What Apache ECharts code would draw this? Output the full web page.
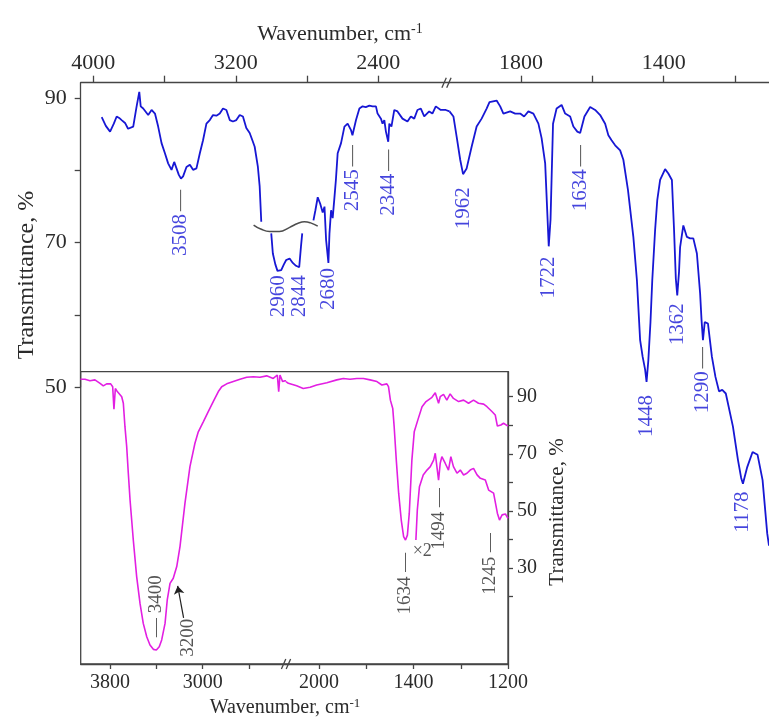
<!DOCTYPE html>
<html>
<head>
<meta charset="utf-8">
<script src="https://cdn.jsdelivr.net/npm/echarts@6/dist/echarts.min.js"></script>
<style>
  html, body { margin: 0; padding: 0; background: #fff; }
  #chart { width: 769px; height: 720px; }
</style>
</head>
<body>
<div id="chart"></div>
<script>
// ---------------------------------------------------------------
// Spectra: [wavenumber (cm-1), transmittance (%)]
// ---------------------------------------------------------------

// Blue spectrum, 4000-2000 cm-1 part, first piece (before the y-break)
const blueHighA = [
  [3953, 87.4], [3930, 86.2], [3906, 85.4], [3885, 86.5], [3869, 87.5], [3855, 87.3],
  [3841, 87.0], [3822, 86.6], [3805, 85.8], [3794, 85.6], [3776, 86.1], [3757, 88.9],
  [3742, 90.9], [3734, 88.9], [3720, 88.6], [3710, 88.4], [3692, 87.7], [3673, 88.4],
  [3654, 87.9], [3636, 86.1], [3617, 83.8], [3598, 82.4], [3580, 81.0], [3561, 80.1],
  [3546, 81.2], [3533, 80.3], [3520, 79.4], [3508, 78.9], [3496, 79.2], [3477, 80.5],
  [3458, 80.8], [3440, 80.1], [3421, 80.3], [3402, 82.4], [3384, 84.2], [3365, 86.5],
  [3346, 87.0], [3328, 87.7], [3309, 87.6], [3290, 87.9], [3272, 88.6], [3253, 88.4],
  [3234, 87.0], [3216, 86.8], [3197, 87.0], [3178, 87.7], [3160, 87.5], [3141, 85.9],
  [3122, 85.2], [3107, 84.2], [3094, 83.3], [3076, 80.5], [3066, 77.8], [3057, 72.9]
];
// Blue spectrum, C-H stretching band below the y-break
const blueHighB = [
  [3001, 71.3], [2992, 68.5], [2978, 67.0], [2966, 66.1], [2960, 65.9], [2945, 66.2],
  [2930, 67.0], [2917, 67.6], [2898, 67.8], [2880, 67.2], [2862, 66.8], [2844, 66.6],
  [2834, 69.5], [2827, 71.3]
];
// Blue spectrum, after the y-break down to 2000 cm-1
const blueHighC = [
  [2764, 73.1], [2753, 74.5], [2740, 76.3], [2726, 75.4], [2712, 74.2], [2702, 75.0],
  [2693, 70.4], [2680, 67.2], [2674, 71.3], [2665, 74.5], [2656, 73.4], [2647, 76.0],
  [2638, 78.7], [2628, 82.4], [2609, 83.8], [2590, 86.1], [2572, 86.5], [2553, 85.6],
  [2545, 84.9], [2525, 87.0], [2506, 88.6], [2488, 88.9], [2470, 88.8], [2450, 89.0],
  [2432, 88.9], [2413, 88.9], [2404, 87.9], [2385, 87.2], [2376, 86.5], [2366, 87.0],
  [2357, 85.4], [2344, 84.0], [2338, 86.5], [2326, 86.1], [2310, 88.4], [2292, 88.2],
  [2264, 87.2], [2236, 86.8], [2217, 87.5], [2198, 87.2], [2180, 88.4], [2161, 88.6],
  [2142, 87.5], [2114, 88.2], [2096, 87.9], [2077, 88.9], [2049, 88.4], [2021, 88.4],
  [2000, 88.2]
];
// Blue spectrum, 2000-1105 cm-1 part
const blueLow = [
  [2000, 88.2], [1998, 88.0], [1989, 87.5], [1980, 84.7], [1970, 81.5], [1962, 79.5],
  [1952, 80.3], [1938, 83.3], [1924, 86.1], [1910, 87.2], [1896, 88.6], [1888, 89.5],
  [1868, 89.7], [1858, 88.9], [1849, 87.9], [1830, 88.2], [1816, 87.9], [1802, 87.9],
  [1791, 87.5], [1779, 88.2], [1765, 87.9], [1751, 86.5], [1742, 84.5], [1732, 81.0],
  [1726, 74.1], [1722, 69.5], [1717, 73.2], [1710, 86.5], [1700, 88.6], [1686, 89.1],
  [1676, 87.9], [1662, 87.5], [1653, 86.1], [1642, 85.4], [1634, 85.2], [1622, 87.5],
  [1606, 88.8], [1592, 88.4], [1578, 87.7], [1564, 86.5], [1555, 84.9], [1546, 84.2],
  [1536, 83.5], [1522, 82.8], [1513, 81.5], [1500, 77.3], [1485, 70.8], [1475, 64.8],
  [1466, 56.5], [1459, 54.2], [1452, 52.4], [1448, 50.7], [1443, 53.7], [1437, 59.0],
  [1432, 64.8], [1424, 71.8], [1418, 75.9], [1410, 78.7], [1396, 80.2], [1387, 79.6],
  [1377, 78.7], [1371, 71.8], [1366, 65.0], [1362, 62.7], [1357, 66.0], [1354, 69.4],
  [1345, 72.4], [1335, 70.8], [1326, 70.6], [1317, 70.6], [1307, 68.5], [1298, 63.0],
  [1294, 59.3], [1290, 56.5], [1285, 59.0], [1276, 58.8], [1265, 54.2], [1255, 51.4],
  [1245, 49.4], [1236, 49.6], [1226, 49.1], [1206, 44.5], [1192, 39.9], [1183, 37.4],
  [1178, 36.6], [1166, 38.9], [1151, 41.0], [1137, 40.6], [1123, 37.1], [1110, 29.7],
  [1105, 28.0]
];
// Wavy symbol marking the broken transmittance scale
const breakWave = [
  [3100, 72.45], [3060, 71.9], [3010, 71.55], [2955, 71.55], [2900, 72.1],
  [2850, 72.7], [2815, 72.9], [2780, 72.75], [2740, 72.3]
];

// Inset (magenta) spectrum, 4055-2281 cm-1 part
const insetHigh = [
  [4055, 96.1], [4016, 96.1], [3973, 95.6], [3930, 95.9], [3886, 94.7], [3858, 93.8],
  [3829, 94.5], [3794, 94.5], [3777, 93.5], [3766, 85.6], [3754, 92.9], [3737, 91.8],
  [3720, 92.1], [3699, 90.0], [3685, 87.7], [3671, 79.5], [3656, 72.5], [3642, 63.2],
  [3627, 53.8], [3599, 39.8], [3570, 27.0], [3541, 17.6], [3513, 10.6], [3483, 5.9],
  [3455, 3.0], [3426, 1.5], [3400, 1.3], [3375, 2.4], [3354, 4.8], [3325, 10.6],
  [3306, 18.8], [3282, 24.6], [3254, 26.4], [3224, 30.5], [3196, 37.5], [3153, 52.7],
  [3110, 65.5], [3067, 73.7], [3038, 77.7], [2995, 81.2], [2952, 84.8], [2909, 88.3],
  [2865, 91.8], [2836, 93.5], [2793, 94.5], [2736, 95.3], [2678, 96.1], [2620, 96.8],
  [2563, 97.0], [2506, 96.8], [2448, 97.3], [2391, 96.4], [2356, 97.6], [2344, 91.8],
  [2333, 97.6], [2310, 95.3], [2290, 95.6], [2281, 95.5]
];
// Inset spectrum, 2140-1200 cm-1 part
const insetLow = [
  [2140, 95.3], [2130, 94.7], [2095, 93.8], [2067, 92.9], [2038, 93.3], [2010, 94.1],
  [1967, 94.9], [1925, 95.9], [1897, 96.4], [1869, 96.1], [1840, 96.4], [1812, 96.4],
  [1784, 95.9], [1755, 95.3], [1734, 94.1], [1713, 94.5], [1706, 93.5], [1698, 88.8],
  [1688, 85.9], [1682, 79.5], [1673, 67.8], [1663, 56.2], [1652, 46.8], [1642, 41.0],
  [1634, 39.8], [1626, 41.5], [1618, 49.2], [1607, 67.8], [1597, 77.7], [1582, 81.8],
  [1564, 86.5], [1547, 88.3], [1522, 89.8], [1508, 91.4], [1494, 87.7], [1487, 90.0],
  [1473, 90.8], [1459, 88.8], [1445, 91.0], [1431, 89.4], [1409, 88.3], [1388, 88.8],
  [1367, 87.7], [1346, 88.8], [1325, 87.7], [1303, 87.4], [1289, 86.5], [1268, 84.8],
  [1254, 83.6], [1245, 79.7], [1230, 80.1], [1219, 80.7], [1200, 79.7]
];
// Same region recorded with twofold scale expansion
const insetLowX2 = [
  [1590, 39.8], [1584, 50.3], [1575, 58.5], [1559, 62.6], [1543, 64.3], [1529, 65.5],
  [1515, 67.8], [1508, 70.2], [1494, 60.8], [1487, 66.7], [1480, 69.0], [1466, 66.7],
  [1452, 64.3], [1442, 69.0], [1431, 65.5], [1416, 63.2], [1402, 64.3], [1388, 62.6],
  [1374, 63.2], [1360, 64.3], [1346, 64.9], [1331, 62.6], [1317, 61.4], [1296, 60.8],
  [1282, 57.3], [1261, 56.2], [1245, 49.2], [1236, 46.8], [1225, 48.6], [1211, 48.9],
  [1200, 47.4]
];

// Band assignments on the blue spectrum and where each caption starts (% level)
const bluePeaks       = [3508, 2960, 2844, 2680, 2545, 2344, 1962, 1722, 1634, 1448, 1362, 1290, 1178];
const bluePeakLabelAt = [77.3, 65.5, 65.5, 66.5, 83.5, 82.9, 77.7, 68.1, 83.5, 48.9, 61.6, 55.5, 35.5];
const bluePeakDash    = [true, false, false, false, true, true, false, false, true, false, false, true, false];

// Band captions in the inset
const insetPeaks = [
  { text: '3400', wn: 3400, at: 5.8,  dashFirst: true },
  { text: '3200', wn: 3127, at: -1.1 },
  { text: '1634', wn: 1634, at: 35.3, dashLast: true },
  { text: '1494', wn: 1494, at: 58.0, dashLast: true },
  { text: '1245', wn: 1276, at: 42.3, dashLast: true }
];
const insetArrow = [[3165, 12.5], [3216, 23.7]];
const scaleNote = { text: '\u00d72', wn: 1563, at: 36.0 };

// Axis ticks and tick captions
const topTicksHigh    = [4000, 3600, 3200, 2800, 2400];
const topLabelsHigh   = [4000, 3200, 2400];
const topTicksLow     = [1800, 1600, 1400, 1200];
const topLabelsLow    = [1800, 1400];
const mainYTicks      = [50, 60, 70, 80, 90];
const mainYLabels     = [50, 70, 90];
const insetTicksHigh  = [3800, 3400, 3000, 2600];
const insetLabelsHigh = [3800, 3000];
const insetTicksLow   = [2000, 1800, 1600, 1400, 1200];
const insetLabelsLow  = [2000, 1600, 1200];
const insetLowTickText = { 2000: '2000', 1600: '1400', 1200: '1200' };
const insetYTicks     = [20, 30, 40, 50, 60, 70, 80, 90];
const insetYLabels    = [30, 50, 70, 90];

// ---------------------------------------------------------------
const BLUE = '#1717d4';
const MAGENTA = '#e21fe2';
const INK = '#2b2b2b';
const AXIS = '#454545';
const FONT = '"Liberation Serif", "Times New Roman", serif';

const MAIN_Y = { min: 50, max: 92.18 };
const INSET_Y = { min: -3.63, max: 98.76 };

const chart = echarts.init(document.getElementById('chart'), null, { renderer: 'canvas' });

function axisTick(values, len) {
  return { show: true, inside: false, length: len, customValues: values,
           lineStyle: { color: AXIS, width: 1.3 } };
}
function axisLabel(values, size, margin, formatter) {
  return { show: true, customValues: values, color: INK, fontFamily: FONT,
           fontSize: size, margin: margin, formatter: formatter || (v => String(v)) };
}
const axisLine = { show: true, onZero: false, lineStyle: { color: AXIS, width: 1.3 } };
const hiddenY = (grid, r) => ({ type: 'value', gridIndex: grid, show: false, min: r.min, max: r.max });

const peakLabelRich = {
  b: { color: BLUE, fontFamily: FONT, fontSize: 21 },
  d: { color: '#333', fontFamily: FONT, fontSize: 21 },
  k: { color: INK, fontFamily: FONT, fontSize: 19 }
};

function blueLabelSeries(xi, pick) {
  const data = bluePeaks
    .map((wn, i) => ({ value: [wn, bluePeakLabelAt[i]], name: String(wn), dashed: bluePeakDash[i] }))
    .filter(d => pick(d.value[0]));
  return {
    type: 'scatter', xAxisIndex: xi, yAxisIndex: xi, clip: false, silent: true,
    symbolSize: 1, itemStyle: { color: 'rgba(0,0,0,0)' },
    data,
    label: {
      show: true, position: 'inside', rotate: 90, align: 'right', verticalAlign: 'middle',
      formatter: p => p.data.dashed ? '{b|' + p.name + '} {d|\u2014}' : '{b|' + p.name + '}',
      rich: peakLabelRich
    }
  };
}

function insetLabelSeries(xi, pick) {
  const items = insetPeaks.filter(p => pick(p.wn));
  return {
    type: 'scatter', xAxisIndex: xi, yAxisIndex: xi, clip: false, silent: true,
    symbolSize: 1, itemStyle: { color: 'rgba(0,0,0,0)' },
    data: items.map(p => ({
      value: [p.wn, p.at], name: p.text,
      label: { align: p.dashLast ? 'right' : 'left' },
      kind: p.dashFirst ? 'first' : (p.dashLast ? 'last' : 'plain')
    })),
    label: {
      show: true, position: 'inside', rotate: 90, verticalAlign: 'middle',
      formatter: p => p.data.kind === 'first' ? '{k|\u2014 ' + p.name + '}'
                    : p.data.kind === 'last' ? '{k|' + p.name + ' \u2014}'
                    : '{k|' + p.name + '}',
      rich: peakLabelRich
    }
  };
}

const option = {
  animation: false,
  backgroundColor: '#fff',
  textStyle: { fontFamily: FONT },
  grid: [
    { left: 80.7, top: 82.7, width: 368.8, height: 304.3, outerBoundsMode: 'none' },
    { left: 449.5, top: 82.7, width: 319.5, height: 304.3, outerBoundsMode: 'none' },
    { left: 80.7, top: 371.7, width: 205.3, height: 292.3, outerBoundsMode: 'none' },
    { left: 286, top: 371.7, width: 222, height: 292.3, outerBoundsMode: 'none' },
    { left: 80.7, top: 371.7, width: 427.3, height: 292.3, outerBoundsMode: 'none',
      show: true, borderColor: AXIS, borderWidth: 1.3, backgroundColor: 'rgba(0,0,0,0)' }
  ],
  xAxis: [
    { type: 'value', gridIndex: 0, position: 'top', inverse: true, min: 2000, max: 4071,
      axisLine, axisTick: axisTick(topTicksHigh, 7), axisLabel: axisLabel(topLabelsHigh, 22, 8),
      splitLine: { show: false } },
    { type: 'value', gridIndex: 1, position: 'top', inverse: true, min: 1105, max: 2000,
      axisLine, axisTick: axisTick(topTicksLow, 7), axisLabel: axisLabel(topLabelsLow, 22, 8),
      splitLine: { show: false } },
    { type: 'value', gridIndex: 2, position: 'bottom', inverse: true, min: 2281, max: 4053,
      axisLine, axisTick: axisTick(insetTicksHigh, 5), axisLabel: axisLabel(insetLabelsHigh, 20, 9),
      splitLine: { show: false } },
    { type: 'value', gridIndex: 3, position: 'bottom', inverse: true, min: 1200, max: 2140,
      axisLine, axisTick: axisTick(insetTicksLow, 5),
      axisLabel: axisLabel(insetLabelsLow, 20, 9, v => insetLowTickText[v]),
      splitLine: { show: false } },
    { type: 'value', gridIndex: 4, show: false, min: 0, max: 1 }
  ],
  yAxis: [
    { type: 'value', gridIndex: 0, position: 'left', min: MAIN_Y.min, max: MAIN_Y.max,
      axisLine, axisTick: axisTick(mainYTicks, 6), axisLabel: axisLabel(mainYLabels, 22, 14),
      splitLine: { show: false } },
    hiddenY(1, MAIN_Y),
    hiddenY(2, INSET_Y),
    { type: 'value', gridIndex: 3, position: 'right', min: INSET_Y.min, max: INSET_Y.max,
      axisLine, axisTick: axisTick(insetYTicks, 5), axisLabel: axisLabel(insetYLabels, 20, 9),
      splitLine: { show: false } },
    { type: 'value', gridIndex: 4, show: false, min: 0, max: 1 }
  ],
  series: [
    { type: 'line', xAxisIndex: 0, yAxisIndex: 0, data: blueHighA, showSymbol: false, clip: false,
      lineStyle: { color: BLUE, width: 1.8 } },
    { type: 'line', xAxisIndex: 0, yAxisIndex: 0, data: blueHighB, showSymbol: false, clip: false,
      lineStyle: { color: BLUE, width: 1.8 } },
    { type: 'line', xAxisIndex: 0, yAxisIndex: 0, data: blueHighC, showSymbol: false, clip: false,
      lineStyle: { color: BLUE, width: 1.8 } },
    { type: 'line', xAxisIndex: 1, yAxisIndex: 1, data: blueLow, showSymbol: false, clip: false,
      lineStyle: { color: BLUE, width: 1.8 } },
    { type: 'line', xAxisIndex: 0, yAxisIndex: 0, data: breakWave, showSymbol: false, smooth: true,
      clip: false, lineStyle: { color: '#4d4d4d', width: 1.5 } },
    { type: 'line', xAxisIndex: 2, yAxisIndex: 2, data: insetHigh, showSymbol: false,
      lineStyle: { color: MAGENTA, width: 1.6 },
      markLine: {
        silent: true, symbol: ['none', 'arrow'], symbolSize: 8,
        label: { show: false },
        lineStyle: { type: 'solid', color: '#222', width: 1.2, curveness: -0.35 },
        data: [[{ coord: insetArrow[0] }, { coord: insetArrow[1] }]]
      } },
    { type: 'line', xAxisIndex: 3, yAxisIndex: 3, data: insetLow, showSymbol: false,
      lineStyle: { color: MAGENTA, width: 1.6 } },
    { type: 'line', xAxisIndex: 3, yAxisIndex: 3, data: insetLowX2, showSymbol: false,
      lineStyle: { color: MAGENTA, width: 1.6 } },
    blueLabelSeries(0, wn => wn > 2000),
    blueLabelSeries(1, wn => wn <= 2000),
    insetLabelSeries(2, wn => wn > 2200),
    insetLabelSeries(3, wn => wn <= 2200),
    { type: 'scatter', xAxisIndex: 3, yAxisIndex: 3, clip: false, silent: true,
      symbolSize: 1, itemStyle: { color: 'rgba(0,0,0,0)' },
      data: [{ value: [scaleNote.wn, scaleNote.at], name: scaleNote.text }],
      label: { show: true, position: 'inside', formatter: p => p.name,
               color: INK, fontFamily: FONT, fontSize: 18 } }
  ]
};
chart.setOption(option);

// Axis titles and break marks, placed from the axis scales
const px = (axis, v) => chart.convertToPixel(axis, v);
const topY = px({ yAxisIndex: 0 }, MAIN_Y.max);
const mainBreakX = px({ xAxisIndex: 1 }, 2000) - 3;
const insetBottomY = px({ yAxisIndex: 3 }, INSET_Y.min);
const insetBreakX = px({ xAxisIndex: 3 }, 2140);

function slashes(id, cx, cy) {
  const mk = dx => ({ type: 'line', shape: { x1: cx + dx - 2.2, y1: cy + 5, x2: cx + dx + 2.2, y2: cy - 5 },
                      style: { stroke: AXIS, lineWidth: 1.3 } });
  return { type: 'group', id, z: 10, children: [mk(-2.4), mk(2.4)] };
}
const titleRich = {
  s: { fontFamily: FONT, fontSize: 14, fill: INK, verticalAlign: 'top', lineHeight: 24 }
};

chart.setOption({
  graphic: [
    { type: 'text', id: 'topTitle', x: 340, y: 34,
      style: { text: 'Wavenumber, cm{s|-1}', fontFamily: FONT, fontSize: 22, fill: INK,
               align: 'center', verticalAlign: 'middle', lineHeight: 24, rich: titleRich } },
    { type: 'text', id: 'leftTitle', x: 27, y: 275, rotation: Math.PI / 2,
      style: { text: 'Transmittance, %', fontFamily: FONT, fontSize: 24, fill: INK,
               align: 'center', verticalAlign: 'middle' } },
    { type: 'text', id: 'insetXTitle', x: 285, y: 708,
      style: { text: 'Wavenumber, cm{s|-1}', fontFamily: FONT, fontSize: 20, fill: INK,
               align: 'center', verticalAlign: 'middle', lineHeight: 22,
               rich: { s: { fontFamily: FONT, fontSize: 13, fill: INK, verticalAlign: 'top', lineHeight: 22 } } } },
    { type: 'text', id: 'insetYTitle', x: 557, y: 512, rotation: Math.PI / 2,
      style: { text: 'Transmittance, %', fontFamily: FONT, fontSize: 21, fill: INK,
               align: 'center', verticalAlign: 'middle' } },
    slashes('mainBreak', mainBreakX, topY),
    slashes('insetBreak', insetBreakX, insetBottomY)
  ]
});
</script>
</body>
</html>
